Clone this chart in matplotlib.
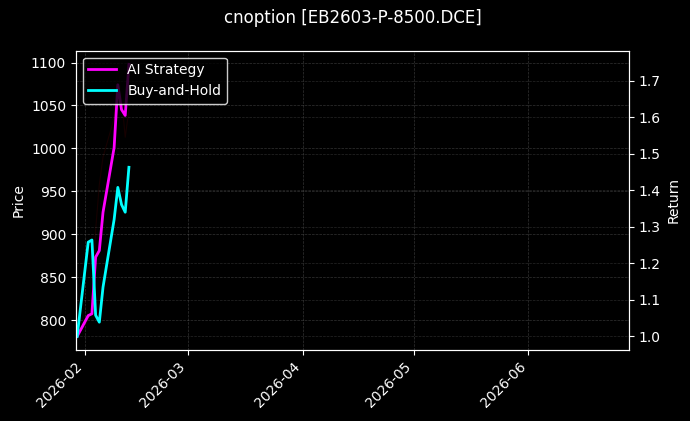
import datetime as dt
import matplotlib
matplotlib.use("Agg")
import matplotlib.pyplot as plt
import matplotlib.dates as mdates

# trading days shown in the chart
dates = [dt.datetime(2026, 1, 30), dt.datetime(2026, 2, 2), dt.datetime(2026, 2, 3),
         dt.datetime(2026, 2, 4), dt.datetime(2026, 2, 5), dt.datetime(2026, 2, 6),
         dt.datetime(2026, 2, 9), dt.datetime(2026, 2, 10), dt.datetime(2026, 2, 11),
         dt.datetime(2026, 2, 12), dt.datetime(2026, 2, 13)]

# option price (drawn very faintly in the reference)
price = [781, 800, 812, 905, 958, 990, 1035, 1098, 1060, 1013, 1045]

# cumulative returns
ai_strategy = [1.000, 1.057, 1.062, 1.217, 1.235, 1.340, 1.517, 1.689, 1.621, 1.605, 1.745]
buy_and_hold = [1.000, 1.258, 1.264, 1.058, 1.039, 1.135, 1.320, 1.408, 1.361, 1.340, 1.463]

title = "cnoption [EB2603-P-8500.DCE]"

plt.style.use("dark_background")
fig = plt.figure(figsize=(6.9, 4.21), dpi=100)
ax = fig.add_axes([0.110, 0.1686, 0.8016, 0.711])

# price on the left axis
ax.plot(dates, price, color="#5a0000", linewidth=0.8, alpha=0.25)
ax.set_ylabel("Price")
ax.grid(True, linestyle="--", linewidth=0.5, color="gray", alpha=0.4)

# returns on the right axis
ax2 = ax.twinx()
ax2.plot(dates, ai_strategy, color="#ff00ff", linewidth=2, label="AI Strategy")
ax2.plot(dates, buy_and_hold, color="#00ffff", linewidth=2, label="Buy-and-Hold")
ax2.set_ylabel("Return")
ax2.grid(True, linestyle="--", linewidth=0.5, color="gray", alpha=0.3)

ax.set_xlim(dt.datetime(2026, 1, 29, 16), dt.datetime(2026, 6, 28, 5))
ax.xaxis.set_major_locator(mdates.MonthLocator())
ax.xaxis.set_major_formatter(mdates.DateFormatter("%Y-%m"))
plt.setp(ax.get_xticklabels(), rotation=45, ha="right")

ax2.legend(loc="upper left", facecolor="black", edgecolor="white")
ax.set_title(title, fontsize=12, pad=20)

fig.savefig("out.png", dpi=100, facecolor="black")
